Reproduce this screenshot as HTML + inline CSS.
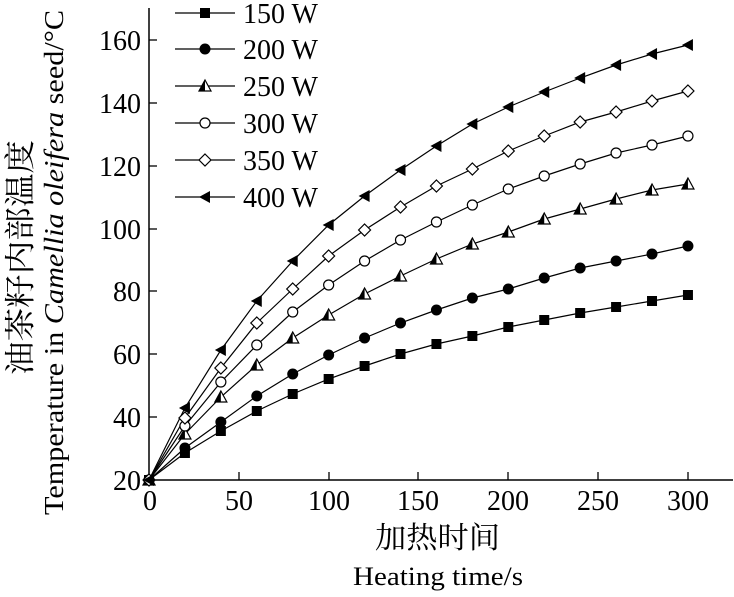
<!DOCTYPE html>
<html><head><meta charset="utf-8"><style>
html,body{margin:0;padding:0;background:#fff;}
svg text{font-family:"Liberation Serif","Noto Serif CJK SC",serif;fill:#000;}
</style></head><body>
<svg id="s" width="734" height="592" xmlns="http://www.w3.org/2000/svg">
<g stroke="#000" stroke-width="1.5" fill="none">
<line x1="149" y1="8" x2="149" y2="481"/>
<line x1="148" y1="480" x2="733" y2="480"/>
</g>
<g id="ticks" stroke="#000" stroke-width="1.3"></g>
<g font-size="28" text-anchor="end">
<text x="141" y="490">20</text><text x="141" y="427">40</text><text x="141" y="364">60</text><text x="141" y="301">80</text><text x="141" y="239">100</text><text x="141" y="176">120</text><text x="141" y="113">140</text><text x="141" y="50">160</text>
</g>
<g font-size="28" text-anchor="middle">
<text x="150" y="510">0</text><text x="239" y="510">50</text><text x="329" y="510">100</text><text x="418" y="510">150</text><text x="508" y="510">200</text><text x="598" y="510">250</text><text x="688" y="510">300</text>
</g>
<text x="375" y="548" font-size="30" textLength="125" lengthAdjust="spacingAndGlyphs">加热时间</text>
<text x="353" y="585" font-size="26" textLength="170" lengthAdjust="spacingAndGlyphs">Heating time/s</text>
<text transform="translate(31,375) rotate(-90)" font-size="31" textLength="235" lengthAdjust="spacingAndGlyphs">油茶籽内部温度</text>
<text transform="translate(63,515) rotate(-90)" font-size="27" textLength="505" lengthAdjust="spacingAndGlyphs">Temperature in <tspan font-style="italic">Camellia oleifera</tspan> seed/°C</text>
<g id="series"></g>
<g id="legend" font-size="28"></g>
</svg>
<script>
var ns="http://www.w3.org/2000/svg";
function el(t,a,p){var e=document.createElementNS(ns,t);for(var k in a)e.setAttribute(k,a[k]);p.appendChild(e);return e;}
var tk=document.getElementById("ticks");
[417,354,291,229,166,103,40].forEach(function(y){el("line",{x1:149,y1:y,x2:157,y2:y},tk);});
[239,329,418,508,598,688].forEach(function(x){el("line",{x1:x,y1:480,x2:x,y2:472},tk);});
var D=[
[480,453,431,411,394,379,366,354,344,336,327,320,313,307,301,295],
[480,448,422,396,374,355,338,323,310,298,289,278,268,261,254,246],
[480,434,397,365,338,315,294,276,259,244,232,219,209,199,190,184],
[480,426,382,345,312,285,261,240,222,205,189,176,164,153,145,136],
[480,418,368,323,289,256,230,207,186,169,151,136,122,112,101,91],
[480,408,350,301,261,225,196,170,146,124,107,92,78,65,54,45]];
function mark(k,x,y,g){
 if(k==0){el("rect",{x:x-5,y:y-5,width:10,height:10,fill:"#000"},g);}
 else if(k==1){el("circle",{cx:x,cy:y,r:5.5,fill:"#000"},g);}
 else if(k==2){el("polygon",{points:(x-6)+","+(y+5)+" "+x+","+(y-6)+" "+(x+6)+","+(y+5),fill:"#fff",stroke:"#000","stroke-width":1.2},g);
   el("polygon",{points:(x-6)+","+(y+5)+" "+x+","+(y-6)+" "+x+","+(y+5),fill:"#000"},g);}
 else if(k==3){el("circle",{cx:x,cy:y,r:5,fill:"#fff",stroke:"#000","stroke-width":1.2},g);}
 else if(k==4){el("polygon",{points:x+","+(y-6)+" "+(x+6)+","+y+" "+x+","+(y+6)+" "+(x-6)+","+y,fill:"#fff",stroke:"#000","stroke-width":1.2},g);}
 else {el("polygon",{points:(x+5)+","+(y-6)+" "+(x+5)+","+(y+6)+" "+(x-6)+","+y,fill:"#000"},g);}
}
var sg=document.getElementById("series");
D.forEach(function(a,k){
 var pts=a.map(function(y,i){return (149+i*35.93).toFixed(1)+","+y;}).join(" ");
 el("polyline",{points:pts,fill:"none",stroke:"#000","stroke-width":1.2},sg);
});
D.forEach(function(a,k){a.forEach(function(y,i){mark(k,149+i*35.93,y,sg);});});
var lg=document.getElementById("legend");
var names=["150 W","200 W","250 W","300 W","350 W","400 W"];
[13,49,86,123,160,197].forEach(function(y,k){
 el("line",{x1:175,y1:y,x2:235,y2:y,stroke:"#000","stroke-width":1.2},lg);
 mark(k,205,y,lg);
 var t=el("text",{x:243,y:y+10},lg);t.textContent=names[k];
});
</script>
</body></html>
